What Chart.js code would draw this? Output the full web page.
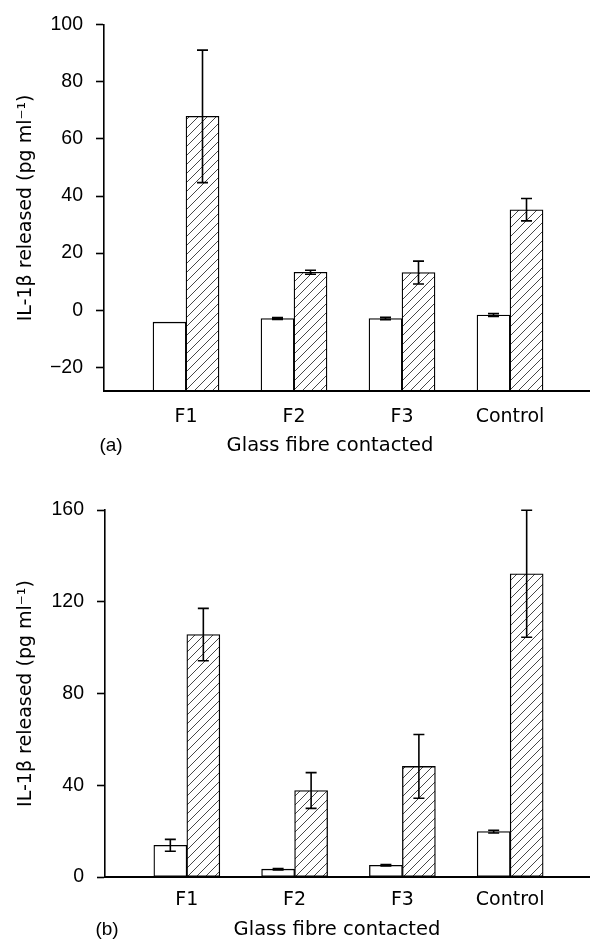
<!DOCTYPE html>
<html lang="en">
<head>
  <meta charset="UTF-8" />
  <title>IL-1β released</title>
  <style>
    body {
      margin: 0;
      background: #fff;
    }
    .panel {
      position: absolute;
      left: 0;
      width: 590px;
    }
    #panel-a { top: 0; height: 470px; }
    #panel-b { top: 470px; height: 474px; }
  </style>
</head>
<body>

<div class="panel" id="panel-a"><canvas id="chart-a" width="590" height="470"></canvas></div>
<div class="panel" id="panel-b"><canvas id="chart-b" width="590" height="474"></canvas></div>

<script src="https://cdn.jsdelivr.net/npm/chart.js"></script>
<script>
  // groups along the x axis
  const categories = ['F1', 'F2', 'F3', 'Control'];
  const xPositions = [1, 2, 3, 4];

  // panel (a)
  const whiteA = [-4.2, -2.9, -2.9, -1.7];
  const whiteErrA = [0, 0.3, 0.4, 0.5];
  const hatchA = [67.9, 13.3, 13.2, 35.2];
  const hatchErrA = [23.2, 0.7, 4.0, 3.9];
  const yTicksA = [-20, 0, 20, 40, 60, 80, 100];

  // panel (b)
  const whiteB = [13.8, 3.4, 5.1, 19.8];
  const whiteErrB = [2.6, 0.3, 0.3, 0.6];
  const hatchB = [105.7, 37.7, 48.2, 132.2];
  const hatchErrB = [11.4, 7.8, 13.9, 27.7];
  const yTicksB = [0, 40, 80, 120, 160];

  const yTitle = 'IL-1β released (pg ml⁻¹)';
  const xTitle = 'Glass fibre contacted';

  const tickFont = { family: "'Liberation Sans', Arial, sans-serif", size: 19.5 };
  const textFont = { family: "'DejaVu Sans', sans-serif", size: 19 };

  function makeHatch(ctx) {
    const c = document.createElement('canvas');
    c.width = 9;
    c.height = 9;
    const g = c.getContext('2d');
    g.fillStyle = '#fff';
    g.fillRect(0, 0, 9, 9);
    g.strokeStyle = '#333';
    g.lineWidth = 0.9;
    g.beginPath();
    g.moveTo(0, 9); g.lineTo(9, 0);
    g.moveTo(-1, 1); g.lineTo(1, -1);
    g.moveTo(8, 10); g.lineTo(10, 8);
    g.stroke();
    return ctx.createPattern(c, 'repeat');
  }

  function makePanel(id, p) {
    const ctx = document.getElementById(id).getContext('2d');
    const series = [
      { values: p.white, err: p.whiteErr },
      { values: p.hatch, err: p.hatchErr }
    ];

    const errorBars = {
      id: 'errorBars',
      afterDatasetsDraw(chart) {
        const c = chart.ctx;
        const y = chart.scales.y;
        c.save();
        c.strokeStyle = '#000';
        c.lineWidth = 1.6;
        series.forEach((s, i) => {
          chart.getDatasetMeta(i).data.forEach((bar, j) => {
            const e = s.err[j];
            if (!e) return;
            const top = y.getPixelForValue(s.values[j] + e);
            const bot = y.getPixelForValue(s.values[j] - e);
            c.beginPath();
            c.moveTo(bar.x, top); c.lineTo(bar.x, bot);
            c.moveTo(bar.x - 5.5, top); c.lineTo(bar.x + 5.5, top);
            c.moveTo(bar.x - 5.5, bot); c.lineTo(bar.x + 5.5, bot);
            c.stroke();
          });
        });
        c.restore();
      }
    };

    const panelText = {
      id: 'panelText',
      afterDraw(chart) {
        const c = chart.ctx;
        const base = chart.chartArea.bottom;
        c.save();
        c.fillStyle = '#000';
        c.textBaseline = 'middle';
        c.textAlign = 'center';
        c.font = `19px ${tickFont.family}`;
        c.fillText(p.tag, p.tagX, base + p.titleDy);
        c.font = `19.5px ${textFont.family}`;
        c.fillText(xTitle, p.titleX, base + p.titleDy);
        c.restore();
      }
    };

    new Chart(ctx, {
      type: 'bar',
      data: {
        datasets: [
          {
            label: 'unstimulated',
            data: xPositions.map((x, i) => ({ x: x, y: [p.yMin, p.white[i]] })),
            backgroundColor: '#fff',
            borderColor: '#000',
            borderWidth: 1.3,
            borderSkipped: false,
            barThickness: 33
          },
          {
            label: 'stimulated',
            data: xPositions.map((x, i) => ({ x: x, y: [p.yMin, p.hatch[i]] })),
            backgroundColor: makeHatch(ctx),
            borderColor: '#000',
            borderWidth: 1.3,
            borderSkipped: false,
            barThickness: 33
          }
        ]
      },
      options: {
        responsive: false,
        animation: false,
        layout: { padding: { top: p.padTop, left: 0, right: 0, bottom: 0 } },
        plugins: {
          legend: { display: false },
          tooltip: { enabled: false }
        },
        scales: {
          x: {
            type: 'linear',
            min: 0.2407,
            max: 4.7407,
            offset: false,
            afterBuildTicks: s => { s.ticks = xPositions.map(v => ({ value: v })); },
            afterFit: s => { s.height = p.xAxisHeight; },
            border: { color: '#000', width: 2 },
            grid: { display: true, drawOnChartArea: false, drawTicks: false, offset: false },
            ticks: {
              color: '#000',
              padding: p.xTickPad,
              font: textFont,
              autoSkip: false,
              maxRotation: 0,
              callback: v => categories[xPositions.indexOf(v)]
            }
          },
          y: {
            min: p.yMin,
            max: p.yMax,
            afterBuildTicks: s => { s.ticks = p.yTicks.map(v => ({ value: v })); },
            afterFit: s => { s.width = p.axisLeft; },
            border: { color: '#000', width: 1.6 },
            grid: { drawOnChartArea: false, drawTicks: true, tickLength: 8, tickColor: '#000', tickWidth: 1.6 },
            ticks: {
              color: '#000',
              padding: 13,
              font: tickFont,
              callback: v => String(v).replace('-', '\u2212')
            },
            title: {
              display: true,
              text: yTitle,
              color: '#000',
              font: textFont,
              padding: { top: 15, bottom: 0 }
            }
          }
        }
      },
      plugins: [errorBars, panelText]
    });
  }

  makePanel('chart-a', {
    white: whiteA, whiteErr: whiteErrA, hatch: hatchA, hatchErr: hatchErrA,
    yTicks: yTicksA, yMin: -28.3, yMax: 100,
    padTop: 24, xAxisHeight: 79, axisLeft: 104, xTickPad: 15,
    tag: '(a)', tagX: 111, titleX: 330, titleDy: 55
  });

  makePanel('chart-b', {
    white: whiteB, whiteErr: whiteErrB, hatch: hatchB, hatchErr: hatchErrB,
    yTicks: yTicksB, yMin: 0, yMax: 160,
    padTop: 40, xAxisHeight: 67, axisLeft: 105, xTickPad: 12,
    tag: '(b)', tagX: 107, titleX: 337, titleDy: 53
  });
</script>
</body>
</html>
